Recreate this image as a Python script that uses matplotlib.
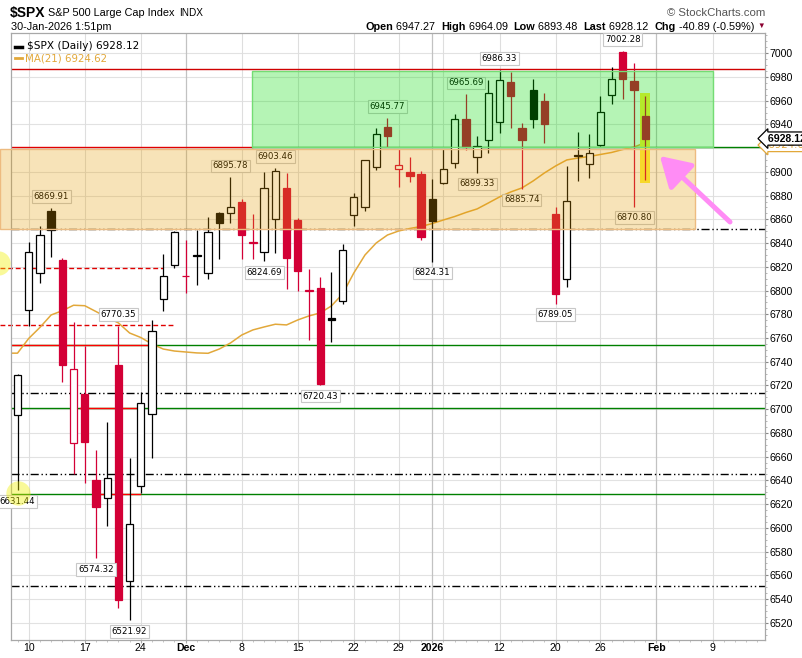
import matplotlib
matplotlib.use("Agg")
import matplotlib.pyplot as plt
import matplotlib.transforms as mtransforms
from matplotlib.patches import Rectangle

# daily bars 07-Nov-2025 .. 30-Jan-2026, trading days only (index = x position)
dates = ["11-07", "11-10", "11-11", "11-12", "11-13", "11-14", "11-17", "11-18", "11-19", "11-20",
         "11-21", "11-24", "11-25", "11-26", "11-28", "12-01", "12-02", "12-03", "12-04", "12-05",
         "12-08", "12-09", "12-10", "12-11", "12-12", "12-15", "12-16", "12-17", "12-18", "12-19",
         "12-22", "12-23", "12-24", "12-26", "12-29", "12-30", "12-31", "01-02", "01-05", "01-06",
         "01-07", "01-08", "01-09", "01-12", "01-13", "01-14", "01-15", "01-16", "01-20", "01-21",
         "01-22", "01-23", "01-26", "01-27", "01-28", "01-29", "01-30"]
opens = [6695.0, 6784.0, 6814.5, 6867.1, 6825.8, 6671.3, 6712.8, 6640.3, 6624.9, 6737.2,
         6554.9, 6635.2, 6695.7, 6792.9, 6821.5, 6812.0, 6830.0, 6814.5, 6865.1, 6865.1,
         6874.9, 6840.0, 6832.2, 6860.1, 6886.2, 6859.5, 6799.5, 6801.9, 6776.6, 6791.5,
         6863.7, 6870.7, 6904.0, 6938.0, 6902.2, 6899.7, 6898.0, 6876.9, 6890.9, 6907.3,
         6944.4, 6912.8, 6926.9, 6942.3, 6976.1, 6936.8, 6969.1, 6959.8, 6864.5, 6809.5,
         6914.5, 6906.4, 6922.7, 6964.8, 7001.3, 6976.9, 6947.27]
highs = [6729.5, 6840.7, 6854.4, 6869.91, 6827.2, 6773.2, 6753.3, 6665.6, 6689.5, 6770.35,
         6658.6, 6714.7, 6775.2, 6830.8, 6850.2, 6842.6, 6851.0, 6861.8, 6866.0, 6895.78,
         6877.2, 6864.5, 6900.2, 6903.46, 6898.8, 6861.0, 6818.2, 6811.7, 6815.9, 6839.2,
         6882.0, 6910.1, 6937.0, 6945.77, 6919.1, 6912.8, 6901.0, 6894.0, 6919.1, 6948.6,
         6965.69, 6930.3, 6977.5, 6986.33, 6984.5, 6941.0, 6978.3, 6966.3, 6870.7, 6905.0,
         6933.9, 6932.0, 6964.0, 6988.7, 7002.28, 6992.1, 6964.09]
lows = [6631.44, 6770.0, 6806.0, 6828.5, 6723.2, 6645.1, 6637.5, 6574.32, 6601.8, 6532.7,
        6521.92, 6629.6, 6658.6, 6782.8, 6818.8, 6798.2, 6804.7, 6809.5, 6826.4, 6857.2,
        6826.4, 6826.4, 6824.69, 6831.9, 6801.1, 6799.9, 6758.3, 6720.43, 6756.9, 6789.0,
        6854.4, 6867.3, 6902.0, 6921.0, 6887.6, 6891.8, 6843.0, 6824.31, 6889.8, 6903.1,
        6918.5, 6899.33, 6916.2, 6933.1, 6936.8, 6885.74, 6936.8, 6924.1, 6789.05, 6803.3,
        6892.6, 6894.6, 6921.5, 6957.3, 6961.5, 6870.80, 6893.48]
closes = [6728.8, 6832.4, 6846.6, 6850.9, 6737.5, 6734.1, 6672.4, 6617.3, 6642.2, 6538.8,
          6603.0, 6705.1, 6765.9, 6812.6, 6849.1, 6812.6, 6829.4, 6849.7, 6857.1, 6870.4,
          6846.5, 6840.5, 6886.7, 6901.0, 6827.4, 6816.5, 6800.3, 6721.4, 6774.8, 6834.5,
          6878.5, 6909.8, 6932.1, 6929.9, 6905.7, 6896.2, 6845.5, 6858.5, 6902.1, 6944.8,
          6920.9, 6921.5, 6966.3, 6977.3, 6963.7, 6926.6, 6944.5, 6940.0, 6796.9, 6875.6,
          6913.4, 6915.6, 6950.2, 6978.6, 6978.0, 6969.0, 6928.12]
prev_close = 6720.3
ma21 = [6747.2, 6759.6, 6768.9, 6779.4, 6783.0, 6787.6, 6787.2, 6782.3, 6777.3, 6772.7,
        6764.2, 6760.4, 6754.9, 6750.7, 6749.0, 6748.2, 6747.4, 6747.1, 6750.7, 6755.8,
        6762.5, 6766.8, 6769.3, 6771.6, 6771.0, 6775.2, 6778.6, 6781.1, 6787.0, 6797.1,
        6814.8, 6830.0, 6840.1, 6846.8, 6850.2, 6852.3, 6854.0, 6856.5, 6859.5, 6862.4,
        6865.8, 6868.8, 6873.8, 6878.9, 6883.1, 6886.5, 6892.4, 6899.1, 6905.0, 6910.1,
        6911.7, 6913.0, 6914.7, 6916.4, 6918.9, 6921.0, 6924.62]

# x axis labels (trading-day index, incl. future days)
tick_pos = [1, 6, 11, 15, 20, 25, 30, 34, 37, 43, 48, 52, 57, 62]
tick_text = ["10", "17", "24", "Dec", "8", "15", "22", "29", "2026", "12", "20", "26", "Feb", "9"]
bold_ticks = ["Dec", "2026", "Feb"]
week_lines = [1, 6, 11, 20, 25, 30, 34, 38, 43, 48, 52, 62]
month_lines = [15, 37, 57]

# annotated highs / lows
marked = [(3, "h"), (0, "l"), (9, "h"), (7, "l"), (10, "l"), (19, "h"), (23, "h"), (22, "l"),
          (27, "l"), (33, "h"), (37, "l"), (40, "h"), (41, "l"), (43, "h"), (45, "l"), (48, "l"),
          (54, "h"), (55, "l")]

# drawn trend/support lines
dashdot_levels = [6851.6, 6713.4, 6645.0, 6550.7]
green_levels = [6754.1, 6700.8, 6628.5]

W, H = 802, 658
fig = plt.figure(figsize=(W / 100, H / 100), dpi=100)
L, R, T, B = 11, 765, 33, 640
ax = fig.add_axes([L / W, 1 - B / H, (R - L) / W, (B - T) / H])
x0, x1 = -0.58, 66.68
ax.set_xlim(x0, x1)
ax.set_ylim(6505.4, 7017.1)
xleft = x0 - 11 / 11.21  # figure edge

RED = "#D30036"
MAC = "#E2A83A"
for v in range(6520, 7001, 20):
    ax.axhline(v, color="#e2e2e2", lw=0.8, zorder=0)
for p in week_lines:
    ax.axvline(p, color="#dedede", lw=0.8, zorder=0)
for p in month_lines:
    ax.axvline(p, color="#c2c2c2", lw=0.9, zorder=0)

# horizontal annotations
for v in dashdot_levels:
    ax.plot([x0, x1], [v, v], color="black", lw=1.0, dashes=(5.8, 2, 1, 2, 1, 2), zorder=1)
for v in green_levels:
    ax.plot([x0, x1], [v, v], color="#008000", lw=1.0, zorder=1)
ax.plot([x0, 11.8], [6754.1, 6754.1], color="#ff0000", lw=1.0, zorder=1.1)
ax.plot([5.6, 10.9], [6700.8, 6700.8], color="#ff0000", lw=1.0, zorder=1.1)
ax.plot([7.1, 10.9], [6628.5, 6628.5], color="#ff0000", lw=1.0, zorder=1.1)
ax.plot([x0, x1], [6986.5, 6986.5], color="#d00000", lw=1.0, zorder=1)
ax.plot([x0, 20.92], [6920.8, 6920.8], color="#e00000", lw=1.0, zorder=1)
ax.plot([20.92, x1], [6920.8, 6920.8], color="#008000", lw=1.0, zorder=1)
ax.plot([xleft, 12.98], [6818.8, 6818.8], color="#e00000", lw=1.0, dashes=(3.5, 2), zorder=1, clip_on=False)
ax.plot([xleft, 14.05], [6770.7, 6770.7], color="#e00000", lw=1.0, dashes=(3.5, 2), zorder=1, clip_on=False)

# moving average
ax.plot([-1] + list(range(len(ma21))), [ma21[0]] + ma21, color=MAC, lw=1.1, zorder=2)

# yellow highlight behind the last bar
n = len(closes)
ax.add_patch(Rectangle((n - 1 - 0.45, 6890.4), 0.9, 75.8, facecolor="#FFF03C", edgecolor="none", zorder=2.2))

# candles
bw = 0.65
pc = prev_close
for i in range(n):
    o, h, l, c = opens[i], highs[i], lows[i], closes[i]
    col = "black" if c >= pc else RED
    ax.plot([i, i], [l, h], color=col, lw=0.9, zorder=3, solid_capstyle="butt")
    lo, hi = min(o, c), max(o, c)
    face = "white" if c > o else col
    ax.add_patch(Rectangle((i - bw / 2, lo), bw, max(hi - lo, 0.6), facecolor=face,
                           edgecolor=col, lw=0.9, zorder=3.5))
    pc = c

# high/low callouts
for i, kind in marked:
    v = highs[i] if kind == "h" else lows[i]
    off = 8 if kind == "h" else -8
    ax.annotate(f"{v:.2f}", (i, v), xytext=(0, off), textcoords="offset points",
                ha="center", va="center", fontsize=6.2, family="DejaVu Sans", zorder=4,
                annotation_clip=False,
                bbox=dict(boxstyle="square,pad=0.2", fc="white", ec="#c8c8c8", lw=0.8))

# translucent zones on top
ax.add_patch(Rectangle((xleft, 6851.6), 60.48 - xleft, 67.5, facecolor="#E49C00", alpha=0.28,
                       edgecolor="none", zorder=5, clip_on=False))
ax.add_patch(Rectangle((xleft, 6851.6), 60.48 - xleft, 67.5, facecolor="none",
                       edgecolor="#EDBB80", lw=1, zorder=5, clip_on=False))
ax.add_patch(Rectangle((20.92, 6921.0), 41.1, 64.1, facecolor="#00DC00", alpha=0.29,
                       edgecolor="none", zorder=5))
ax.add_patch(Rectangle((20.92, 6921.0), 41.1, 64.1, facecolor="none",
                       edgecolor="#74DC74", lw=1, zorder=5))

# markers drawn by hand
ax.plot([-1.74, 0], [6823.2, 6629.3], "o", ms=17.5, color="#F0F000", alpha=0.4,
        mec="none", zorder=6, clip_on=False)
ax.annotate("", xy=(57.3, 6913.4), xytext=(63.56, 6857.8),
            arrowprops=dict(arrowstyle="-|>,head_length=1.0,head_width=0.6", color="#FF8CF5",
                            lw=3.6, mutation_scale=18, shrinkA=0, shrinkB=0), zorder=7)

# axes styling
for s in ax.spines.values():
    s.set_color("#a8a8a8")
    s.set_linewidth(0.9)
ax.yaxis.tick_right()
ax.set_yticks(range(6520, 7001, 20))
ax.set_yticks(range(6510, 7016, 5), minor=True)
ax.tick_params(axis="y", which="major", length=2, pad=1.5, colors="#888888", labelcolor="black",
               labelsize=7.6)
ax.tick_params(axis="y", which="minor", length=1.2, colors="#aaaaaa")
ax.set_xticks(tick_pos)
ax.set_xticklabels(tick_text)
ax.set_xticks(range(0, 67), minor=True)
ax.tick_params(axis="x", which="major", length=2, pad=0.5, colors="#aaaaaa", labelcolor="black",
               labelsize=7.6)
ax.tick_params(axis="x", which="minor", length=1.5, colors="#bbbbbb")
for t in ax.get_xticklabels() + ax.get_yticklabels():
    t.set_family("Liberation Sans")
for t in ax.get_xticklabels():
    if t.get_text() in bold_ticks:
        t.set_fontweight("bold")

# price tags on the right edge
blend = mtransforms.blended_transform_factory(ax.transAxes, ax.transData)
ax.text(1.0, ma21[-1] - 2.0, " 6924.62  ", transform=blend, fontsize=7.4, ha="left", va="center",
        color=MAC, clip_on=False, zorder=8,
        bbox=dict(boxstyle="larrow,pad=0.15", fc="white", ec=MAC, lw=0.9))
ax.text(1.0, closes[-1], " 6928.12  ", transform=blend, fontsize=7.6, ha="left", va="center",
        fontweight="bold", family="Liberation Sans", clip_on=False, zorder=9,
        bbox=dict(boxstyle="larrow,pad=0.15", fc="white", ec="black", lw=0.9))

# legend inside the chart
ax.text(0.021, 0.987, "$SPX (Daily) 6928.12", transform=ax.transAxes, fontsize=7.6,
        va="top", ha="left", family="DejaVu Sans", zorder=8)
ax.plot([0.005, 0.015], [0.977, 0.977], transform=ax.transAxes, color="black", lw=2.5, zorder=8)
ax.plot([0.005, 0.015], [0.958, 0.958], transform=ax.transAxes, color=MAC, lw=2, zorder=8)
ax.text(0.018, 0.967, "MA(21) 6924.62", transform=ax.transAxes, fontsize=7.4,
        va="top", ha="left", family="DejaVu Sans", color=MAC, zorder=8)

# header
def ftext(x, y, s, **kw):
    return fig.text(x / W, 1 - y / H, s, va="center", family="Liberation Sans", **kw)

renderer = fig.canvas.get_renderer()
ftext(10, 13, "$SPX", fontsize=10, fontweight="bold")
name = ftext(48, 13.5, "S&P 500 Large Cap Index", fontsize=7.8)
name_end = name.get_window_extent(renderer).x1
ftext(name_end + 5, 13.5, "INDX", fontsize=7.2)
ftext(11, 26.5, "30-Jan-2026 1:51pm", fontsize=7.8)
ftext(765, 13.5, "\u00a9 StockCharts.com", fontsize=8.2, ha="right", color="#555555")

parts = [("Open", "bold"), (" 6947.27  ", "normal"), ("High", "bold"), (" 6964.09  ", "normal"),
         ("Low", "bold"), (" 6893.48  ", "normal"), ("Last", "bold"), (" 6928.12  ", "normal"),
         ("Chg", "bold"), (" -40.89 (-0.59%) ", "normal")]
widths = []
for s, wgt in parts:
    t = ftext(0, 26.5, s, fontsize=7.8, fontweight=wgt)
    widths.append(t.get_window_extent(renderer).width)
    t.remove()
xpos = 757 - sum(widths)
for (s, wgt), w in zip(parts, widths):
    ftext(xpos, 26.5, s, fontsize=7.8, fontweight=wgt)
    xpos += w
ftext(757, 26.5, "\u25bc", fontsize=5.5, color="#8B0030")

fig.savefig("out.png", dpi=100)
